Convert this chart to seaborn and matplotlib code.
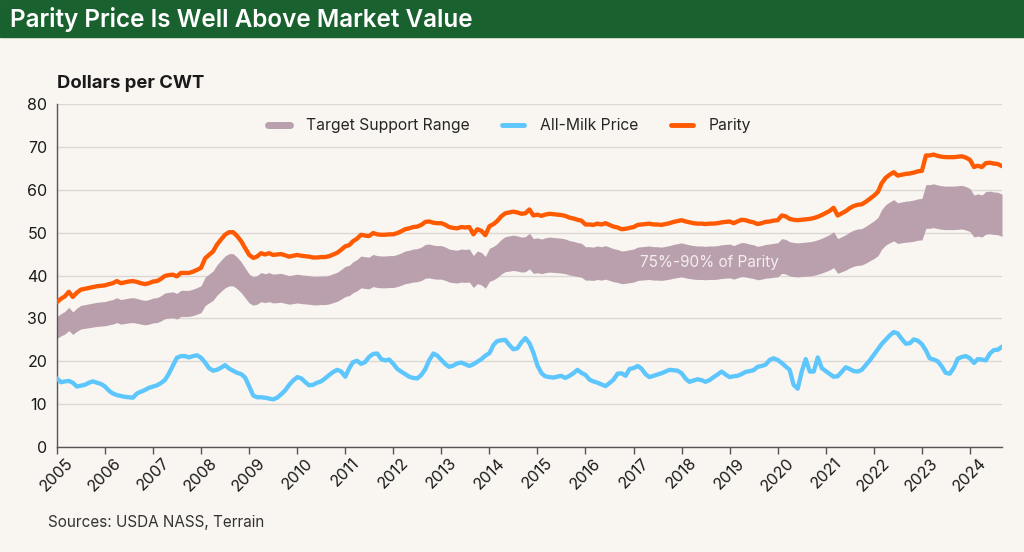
import matplotlib
matplotlib.use("Agg")
import matplotlib.pyplot as plt
import matplotlib.dates as mdates
from matplotlib.lines import Line2D
from matplotlib.patches import Rectangle
import pandas as pd
import seaborn as sns

# ---------------- data (monthly, Jan 2005 - Sep 2024) ----------------
start_month = "2005-01-01"

parity = [
    # 2005
    33.8, 34.6, 35.1, 36.2, 35.0, 36.0, 36.7, 36.9, 37.1, 37.3, 37.5, 37.6,
    # 2006
    37.7, 38.0, 38.2, 38.7, 38.2, 38.4, 38.6, 38.7, 38.5, 38.2, 38.0, 38.2,
    # 2007
    38.6, 38.7, 39.2, 39.9, 40.1, 40.2, 39.8, 40.6, 40.6, 40.6, 40.9, 41.3,
    # 2008
    41.8, 44.0, 44.8, 45.6, 47.2, 48.4, 49.5, 50.1, 50.1, 49.2, 48.0, 46.4,
    # 2009
    44.8, 44.1, 44.4, 45.2, 44.9, 45.2, 44.8, 44.9, 45.0, 44.7, 44.4, 44.6,
    # 2010
    44.8, 44.6, 44.5, 44.4, 44.2, 44.2, 44.3, 44.3, 44.5, 44.9, 45.3, 46.0,
    # 2011
    46.8, 47.1, 48.0, 48.6, 49.5, 49.3, 49.2, 49.9, 49.6, 49.5, 49.5, 49.6,
    # 2012
    49.6, 49.9, 50.3, 50.8, 51.0, 51.3, 51.4, 51.8, 52.5, 52.6, 52.3, 52.2,
    # 2013
    52.2, 51.8, 51.3, 51.1, 51.0, 51.3, 51.2, 51.3, 49.6, 50.8, 50.4, 49.4,
    # 2014
    51.5, 52.0, 52.7, 53.8, 54.5, 54.7, 54.9, 54.7, 54.4, 54.5, 55.4, 54.0,
    # 2015
    54.2, 53.9, 54.2, 54.4, 54.3, 54.2, 54.1, 53.9, 53.5, 53.3, 53.0, 52.8,
    # 2016
    51.9, 51.9, 51.8, 52.1, 51.9, 52.2, 51.8, 51.4, 51.2, 50.8, 50.9, 51.1,
    # 2017
    51.3, 51.8, 51.9, 52.0, 52.1, 51.9, 51.9, 51.8, 52.0, 52.2, 52.5, 52.7,
    # 2018
    52.9, 52.6, 52.4, 52.2, 52.1, 52.1, 52.0, 52.1, 52.1, 52.2, 52.4, 52.5,
    # 2019
    52.6, 52.2, 52.6, 53.0, 52.9, 52.6, 52.4, 52.0, 52.2, 52.5, 52.6, 52.8,
    # 2020
    52.9, 54.0, 53.8, 53.2, 53.0, 52.9, 53.0, 53.1, 53.2, 53.4, 53.7, 54.1,
    # 2021
    54.6, 55.1, 55.8, 54.0, 54.5, 55.0, 55.7, 56.2, 56.5, 56.6, 57.2, 57.9,
    # 2022
    58.6, 59.5, 61.5, 62.8, 63.5, 64.1, 63.3, 63.5, 63.7, 63.8, 64.0, 64.3,
    # 2023
    64.4, 68.0, 68.0, 68.2, 67.9, 67.7, 67.6, 67.6, 67.6, 67.7, 67.8, 67.5,
    # 2024
    67.0, 65.3, 65.6, 65.3, 66.2, 66.3, 66.1, 66.0, 65.5,
]

all_milk = [
    # 2005
    16.0, 15.1, 15.3, 15.4, 15.0, 14.1, 14.3, 14.5, 15.0, 15.3, 15.0, 14.7,
    # 2006
    14.1, 13.1, 12.5, 12.1, 11.9, 11.7, 11.6, 11.5, 12.5, 12.9, 13.3, 13.8,
    # 2007
    14.1, 14.4, 14.9, 15.6, 17.1, 19.0, 20.8, 21.2, 21.2, 20.9, 21.2, 21.4,
    # 2008
    20.8, 19.7, 18.4, 17.8, 18.0, 18.5, 19.1, 18.3, 17.8, 17.3, 17.0, 16.2,
    # 2009
    14.1, 12.0, 11.6, 11.6, 11.5, 11.3, 11.1, 11.5, 12.3, 13.2, 14.5, 15.5,
    # 2010
    16.3, 16.0, 15.2, 14.4, 14.5, 15.0, 15.3, 16.0, 16.8, 17.5, 18.0, 17.6,
    # 2011
    16.4, 18.4, 19.8, 20.1, 19.4, 19.8, 21.0, 21.7, 21.8, 20.5, 20.2, 20.4,
    # 2012
    19.4, 18.2, 17.6, 17.0, 16.4, 16.1, 16.0, 16.8, 18.2, 20.3, 21.8, 21.3,
    # 2013
    20.3, 19.3, 18.7, 19.0, 19.5, 19.7, 19.3, 18.9, 19.3, 19.9, 20.5, 21.3,
    # 2014
    21.9, 23.8, 24.7, 24.9, 25.0, 23.8, 22.8, 23.0, 24.4, 25.4, 24.2, 22.0,
    # 2015
    19.0, 17.2, 16.5, 16.3, 16.2, 16.4, 16.6, 16.1, 16.6, 17.2, 18.0, 17.3,
    # 2016
    16.8, 15.7, 15.3, 15.0, 14.6, 14.2, 14.9, 15.7, 17.1, 17.2, 16.6, 18.2,
    # 2017
    18.4, 18.9, 18.3, 17.0, 16.3, 16.6, 16.9, 17.2, 17.6, 18.0, 17.9, 17.8,
    # 2018
    17.2, 15.9, 15.2, 15.5, 15.8, 15.6, 15.2, 15.6, 16.3, 16.9, 17.6, 16.9,
    # 2019
    16.3, 16.5, 16.6, 17.0, 17.5, 17.7, 17.9, 18.7, 18.9, 19.2, 20.3, 20.7,
    # 2020
    20.3, 19.6, 18.8, 18.0, 14.5, 13.6, 17.5, 20.5, 17.6, 17.6, 20.9, 18.4,
    # 2021
    17.7, 17.0, 16.4, 16.5, 17.5, 18.6, 18.2, 17.7, 17.6, 18.0, 19.1, 20.2,
    # 2022
    21.5, 22.8, 24.0, 25.0, 26.0, 26.8, 26.5, 25.2, 24.1, 24.2, 25.1, 24.8,
    # 2023
    24.0, 22.5, 20.7, 20.4, 20.0, 18.8, 17.3, 17.1, 18.5, 20.6, 21.0, 21.2,
    # 2024
    20.7, 19.6, 20.5, 20.4, 20.2, 21.8, 22.6, 22.7, 23.4,
]

support_low_share = 0.75   # Target Support Range = 75%-90% of Parity
support_high_share = 0.90

y_ticks = [0, 10, 20, 30, 40, 50, 60, 70, 80]
legend_labels = ["Target Support Range", "All-Milk Price", "Parity"]

# ---------------- styling ----------------
BG = "#f9f5f1"
GREEN = "#19612f"
ORANGE = "#ff5a00"
BLUE = "#5cc6fd"
BAND = "#b9a0ac"
GRID = "#dcd7d3"
TEXT = "#1a1a1a"

sns.set_theme(style="white")
plt.rcParams["font.family"] = ["Inter", "DejaVu Sans"]

dates = pd.date_range(start_month, periods=len(parity), freq="MS")
df = pd.DataFrame({"date": dates, "Parity": parity, "All-Milk Price": all_milk})
df["low"] = df["Parity"] * support_low_share
df["high"] = df["Parity"] * support_high_share

fig = plt.figure(figsize=(10.24, 5.52), dpi=100, facecolor=BG)
ax = fig.add_axes([57 / 1024, 1 - 447 / 552, (1002 - 57) / 1024, (447 - 104) / 552])
ax.set_facecolor(BG)

# title bar
fig.patches.append(Rectangle((0, 1 - 37 / 552), 1, 37 / 552, transform=fig.transFigure,
                             color=GREEN, zorder=0))
fig.text(10 / 1024, 1 - 19 / 552, "Parity Price Is Well Above Market Value", color="white",
         fontsize=17.5, fontweight="semibold", va="center", ha="left")

ax.fill_between(df["date"], df["low"], df["high"], color=BAND, lw=0, zorder=2)
sns.lineplot(data=df, x="date", y="All-Milk Price", color=BLUE, lw=3.1, ax=ax, zorder=3)
sns.lineplot(data=df, x="date", y="Parity", color=ORANGE, lw=3.1, ax=ax, zorder=4)

ax.set_xlim(dates[0], dates[-1])
ax.set_ylim(0, 80)
ax.set_yticks(y_ticks)
ax.set_xlabel("")
ax.set_ylabel("")
ax.grid(False)
ax.yaxis.grid(True, color=GRID, lw=1, zorder=0)
ax.set_axisbelow(True)

ax.xaxis.set_major_locator(mdates.YearLocator())
ax.xaxis.set_major_formatter(mdates.DateFormatter("%Y"))
ax.tick_params(axis="x", length=5, width=1, color="#555555", labelsize=11.5,
               labelcolor=TEXT, pad=1, bottom=True)
ax.tick_params(axis="y", length=0, labelsize=11.5, labelcolor=TEXT, pad=7)
for lab in ax.get_xticklabels():
    lab.set_rotation(45)
    lab.set_ha("center")

for s in ["top", "right"]:
    ax.spines[s].set_visible(False)
for s in ["left", "bottom"]:
    ax.spines[s].set_color("#555555")
    ax.spines[s].set_linewidth(1)

handles = [Line2D([0], [0], color=BAND, lw=5),
           Line2D([0], [0], color=BLUE, lw=3.5),
           Line2D([0], [0], color=ORANGE, lw=3.5)]
ax.legend(handles, legend_labels, loc="center", bbox_to_anchor=(0.479, 0.936), ncol=3,
          frameon=False, fontsize=11.3, handlelength=1.4, handletextpad=1.0, columnspacing=2.1)

ax.text(pd.Timestamp("2018-08-01"), 43.0, "75%-90% of Parity", color="#f4eef1",
        fontsize=11, ha="center", va="center", zorder=5)

fig.text(57 / 1024, 1 - 84 / 552, "Dollars per CWT", fontsize=13.3, fontweight="bold",
         color=TEXT, va="center", ha="left")
fig.text(48 / 1024, 1 - 523 / 552, "Sources: USDA NASS, Terrain", fontsize=11,
         color="#333333", va="center", ha="left")

fig.savefig("out.png", dpi=100, facecolor=BG)
